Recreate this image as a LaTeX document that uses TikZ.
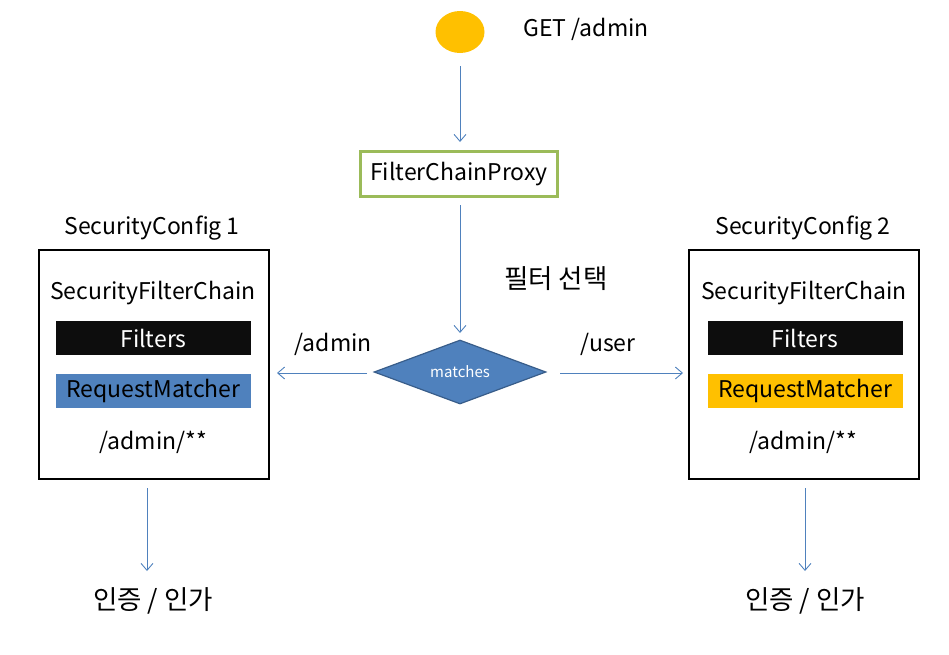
\documentclass[tikz,border=0pt]{standalone}
\usepackage{fontspec}
\setmainfont{Noto Sans CJK KR}
\usetikzlibrary{arrows.meta,shapes.geometric}
\definecolor{arrowblue}{HTML}{4F81BD}
\definecolor{diamfill}{HTML}{4F81BD}
\definecolor{diamdraw}{HTML}{385D8A}
\definecolor{gold}{HTML}{FFC000}
\definecolor{olive}{HTML}{9BBB59}
\tikzset{
  conn/.style={draw=arrowblue, line width=0.9pt, -{Straight Barb[length=7pt,width=12pt]}},
  lbl/.style={font=\fontsize{23}{27}\selectfont, inner sep=0pt},
  kor/.style={font=\fontsize{26.5}{30}\selectfont, inner sep=0pt},
  cfgbox/.style={draw=black, line width=2.6pt, minimum width=230pt, minimum height=229pt, inner sep=0pt},
  bar/.style={minimum width=195pt, minimum height=34pt, inner sep=0pt, font=\fontsize{23}{27}\selectfont},
}
\begin{document}
\begin{tikzpicture}[x=1pt,y=-1pt]
\useasboundingbox (0,0) rectangle (949,654);
% start
\node[ellipse, fill=gold, minimum width=49pt, minimum height=42pt, inner sep=0pt] (start) at (460,32) {};
\node[lbl] (get) at (586,29) {GET /admin};
\node[draw=olive, line width=2.6pt, minimum width=197pt, minimum height=45pt, inner sep=0pt, font=\fontsize{23}{27}\selectfont] (proxy) at (459,174) {FilterChainProxy};
\node[kor] (sel) at (556,279) {필터 선택};
\node[diamond, aspect=2.7, fill=diamfill, draw=diamdraw, line width=1.2pt, minimum width=172pt, minimum height=64pt, inner sep=0pt, text=white, font=\fontsize{15}{18}\selectfont] (match) at (460,372) {matches};
\node[lbl] (ladmin) at (333,344) {/admin};
\node[lbl] (luser) at (608,344) {/user};
% left config
\node[cfgbox] (cfg1) at (154,364.5) {};
\node[lbl] (cfg1t) at (152,228) {SecurityConfig 1};
\node[lbl] (sfc1) at (153,293) {SecurityFilterChain};
\node[bar, fill=black!95, text=white] (f1) at (153.5,338) {Filters};
\node[bar, fill=diamfill, text=black] (rm1) at (153.5,391) {RequestMatcher};
\node[lbl] (pat1) at (153,442) {/admin/**};
% right config
\node[cfgbox] (cfg2) at (804,364.5) {};
\node[lbl] (cfg2t) at (803,228) {SecurityConfig 2};
\node[lbl] (sfc2) at (804,293) {SecurityFilterChain};
\node[bar, fill=black!95, text=white] (f2) at (805,338) {Filters};
\node[bar, fill=gold, text=black] (rm2) at (805,391) {RequestMatcher};
\node[lbl] (pat2) at (803,442) {/admin/**};
% results
\node[kor] (auth1) at (153,601) {인증 / 인가};
\node[kor] (auth2) at (805,601) {인증 / 인가};
% coordinates for connector ends
\coordinate (a1s) at (460,66);
\coordinate (a1e) at (460,142);
\coordinate (a2s) at (460,205);
\coordinate (a2e) at (460,333);
\coordinate (l1s) at (367,373);
\coordinate (l1e) at (277,373);
\coordinate (r1s) at (560,373);
\coordinate (r1e) at (683,373);
\coordinate (d1s) at (147,488);
\coordinate (d1e) at (147,571);
\coordinate (d2s) at (805,488);
\coordinate (d2e) at (805,571);
\draw[conn] (a1s) -- (a1e);
\draw[conn] (a2s) -- (a2e);
\draw[conn] (l1s) -- (l1e);
\draw[conn] (r1s) -- (r1e);
\draw[conn] (d1s) -- (d1e);
\draw[conn] (d2s) -- (d2e);
\end{tikzpicture}
\end{document}
